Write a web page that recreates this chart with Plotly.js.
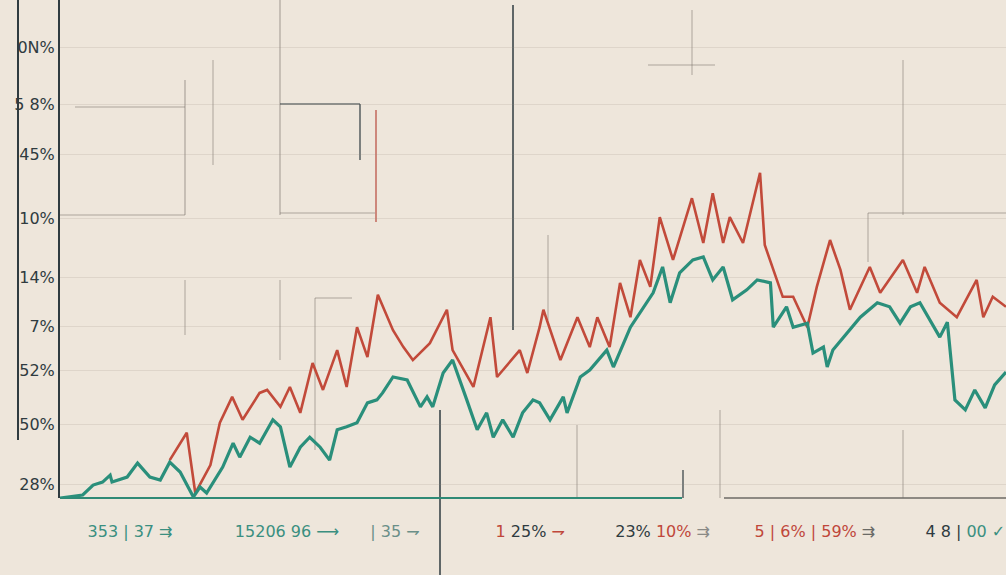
<!DOCTYPE html>
<html>
<head>
<meta charset="utf-8">
<script src="https://cdn.plot.ly/plotly-3.0.1.min.js"></script>
<style>
  html, body { margin: 0; padding: 0; background: #eee6db; }
  #chart { width: 1006px; height: 575px; }
</style>
</head>
<body>
<div id="chart"></div>
<script>
// ---- data ----
const tealX = [0,2.4,3.5,4.5,5.3,5.5,7.1,8.2,9.5,10.6,11.6,12.7,14.1,14.8,15.5,17.2,18.3,19.0,20.1,21.1,22.5,23.3,24.3,25.4,26.4,27.5,28.5,29.3,30.3,31.4,32.5,33.5,34.1,35.2,36.7,38.1,38.8,39.4,40.5,41.5,43.0,44.1,45.1,45.8,46.8,47.9,48.9,50.0,50.7,51.8,53.2,53.6,55.0,56.0,57.8,58.5,60.3,61.3,62.7,63.7,64.5,65.5,66.9,68.0,69.0,70.1,71.1,72.6,73.7,75.1,75.4,76.8,77.5,79.0,79.6,80.7,81.1,81.7,83.2,84.6,86.4,87.7,88.8,89.9,90.9,92.0,93.0,93.8,94.6,95.7,96.7,97.8,98.8,100];
const tealY = [0,0.6,2.6,3.2,4.6,3.2,4.2,7.0,4.2,3.6,7.2,5.2,0.2,2.2,1.0,6.2,11.0,8.2,12.2,11.0,15.7,14.3,6.2,10.2,12.2,10.2,7.6,13.7,14.3,15.1,19.1,19.7,21.1,24.3,23.7,18.3,20.3,18.3,25.1,27.7,19.7,13.7,17.1,12.2,15.7,12.2,17.1,19.7,19.1,15.7,20.3,17.1,24.3,25.7,29.7,26.3,34.3,37.1,41.2,46.4,39.2,45.2,47.8,48.4,43.8,46.4,39.8,41.8,43.8,43.2,34.3,38.4,34.3,35.1,29.1,30.3,26.3,29.7,33.1,36.3,39.2,38.4,35.1,38.4,39.2,35.7,32.3,35.3,19.7,17.7,21.7,18.1,22.7,25.3];

const redX = [11.6,13.4,14.3,15.9,16.9,18.2,19.3,21.1,21.9,23.3,24.3,25.4,26.7,27.8,29.3,30.3,31.4,32.5,33.6,35.2,36.3,37.3,39.1,40.9,41.5,43.7,45.5,46.2,48.6,49.4,50.7,51.1,52.9,54.7,56.0,56.8,58.1,59.2,60.3,61.3,62.4,63.4,64.8,66.8,68.0,69.0,70.1,70.8,72.2,73.3,74.0,74.5,75.4,76.4,77.5,79.0,80.0,81.4,82.5,83.5,85.6,86.7,89.1,90.6,91.4,93.0,94.8,96.9,97.6,98.6,100];
const redY = [7.6,13.1,1.0,6.6,15.1,20.3,15.7,21.1,21.7,18.3,22.3,17.1,27.1,21.7,29.7,22.3,34.3,28.3,40.8,33.7,30.3,27.7,31.1,37.8,29.7,22.3,36.3,24.3,29.7,25.1,34.3,37.8,27.7,36.3,30.3,36.3,30.3,43.2,36.3,47.8,42.4,56.4,47.8,60.2,51.2,61.2,51.2,56.4,51.2,59.8,65.3,50.8,45.8,40.4,40.4,34.3,42.4,51.8,45.8,37.8,46.4,41.2,47.8,41.2,46.4,39.2,36.3,43.8,36.3,40.4,38.4];

const yTickVals = [90.4,79.1,68.9,56.2,44.2,34.5,25.7,14.7,2.8];
const yTickText = ["0N%","5 8%","45%","10%","14%","7%","52%","50%","28%"];

const xTickVals = [7.4,24.0,35.4,49.7,63.7,79.8,95.7];
const xTickText = [
  '<span style="color:#3a8f80">353 | 37 ⇉</span>',
  '<span style="color:#3a8f80">15206 96 ⟶</span>',
  '<span style="color:#6a8f88">| 35 ⇁</span>',
  '<span style="color:#c0473a">1 </span><span style="color:#2f3b40">25%</span><span style="color:#c0473a"> ⇁</span>',
  '<span style="color:#2f3b40">23% </span><span style="color:#c0473a">10%</span><span style="color:#8a8a86"> ⇉</span>',
  '<span style="color:#c0473a">5 | 6% | 59%</span><span style="color:#6a6a66"> ⇉</span>',
  '<span style="color:#2f3b40">4 8 | </span><span style="color:#3a8f80">00 ✓</span>'
];

// ---- decorative sketch lines (pixel -> paper helper) ----
const L = 60, W = 946, H = 498;
function seg(x0, y0, x1, y1, color, width) {
  return {type: 'line', xref: 'paper', yref: 'paper', layer: 'below',
    x0: (x0 - L) / W, x1: (x1 - L) / W, y0: (H - y0) / H, y1: (H - y1) / H,
    line: {color: color, width: width}};
}
const g = 'rgba(120,112,104,0.55)', d = '#2f3b40', lg = 'rgba(150,140,130,0.18)';
const shapes = [
  seg(18, 0, 18, 440, d, 2),
  seg(513, 5, 513, 330, d, 1.5),
  seg(280, 0, 280, 215, g, 1.2),
  seg(280, 104, 360, 104, d, 1.2),
  seg(360, 104, 360, 160, d, 1.2),
  seg(280, 213, 375, 213, g, 1.2),
  seg(376, 110, 376, 222, '#b8493c', 1.2),
  seg(75, 107, 185, 107, g, 1.2),
  seg(185, 80, 185, 215, g, 1.2),
  seg(60, 215, 185, 215, g, 1.2),
  seg(213, 60, 213, 165, g, 1),
  seg(692, 10, 692, 75, g, 1),
  seg(903, 60, 903, 215, g, 1),
  seg(868, 213, 1006, 213, g, 1.2),
  seg(868, 213, 868, 262, g, 1),
  seg(185, 280, 185, 335, g, 1),
  seg(280, 280, 280, 360, g, 1),
  seg(315, 298, 352, 298, g, 1.2),
  seg(315, 298, 315, 450, g, 1),
  seg(440, 410, 440, 575, d, 1.5),
  seg(683, 470, 683, 498, d, 1.2),
  seg(720, 410, 720, 498, g, 1),
  seg(548, 235, 548, 320, g, 1),
  seg(577, 425, 577, 498, g, 1),
  seg(903, 430, 903, 498, g, 1),
  seg(648, 65, 715, 65, g, 1),
  seg(60, 498, 682, 498, '#2f8a76', 2.2),
  seg(724, 498, 1006, 498, '#6d6a66', 1.6)
];

const traces = [
  {x: redX, y: redY, type: 'scatter', mode: 'lines', name: 'red',
   line: {color: '#c24a3a', width: 2.6}},
  {x: tealX, y: tealY, type: 'scatter', mode: 'lines', name: 'teal',
   line: {color: '#2a8f7b', width: 3.2}}
];

const layout = {
  width: 1006, height: 575,
  margin: {l: 60, r: 0, t: 0, b: 77},
  paper_bgcolor: '#eee6db', plot_bgcolor: '#eee6db',
  showlegend: false,
  font: {family: 'DejaVu Sans', color: '#2f3b40'},
  xaxis: {range: [0, 100], showgrid: false, zeroline: false, showline: false,
    tickvals: xTickVals, ticktext: xTickText, ticks: '',
    ticklabelstandoff: 22, tickfont: {size: 16, family: 'DejaVu Sans'}},
  yaxis: {range: [0, 100], showgrid: true, gridcolor: lg, gridwidth: 1,
    zeroline: false, showline: true, linecolor: d, linewidth: 2,
    tickvals: yTickVals, ticktext: yTickText, ticks: '',
    tickfont: {size: 16, family: 'DejaVu Sans', color: '#2f3b40'}},
  shapes: shapes
};

Plotly.newPlot('chart', traces, layout, {displayModeBar: false, staticPlot: true});
</script>
</body>
</html>
